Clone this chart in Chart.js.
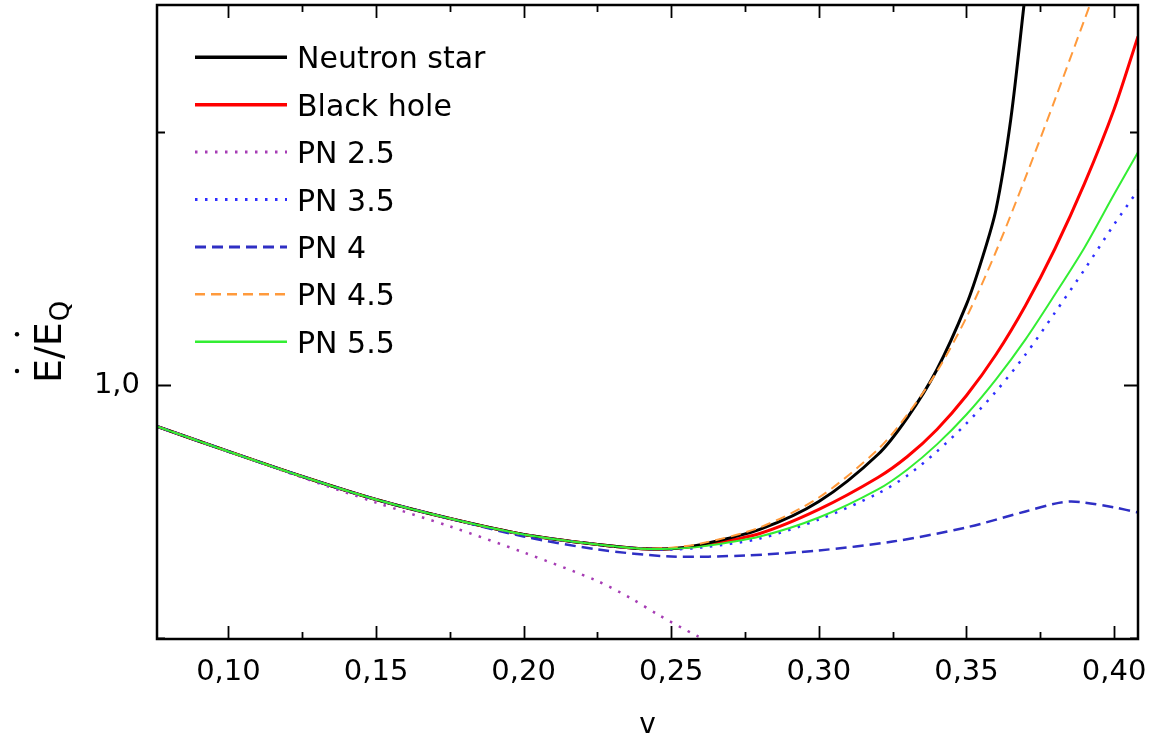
<!DOCTYPE html>
<html>
<head>
<meta charset="utf-8">
<script src="https://cdn.jsdelivr.net/npm/chart.js@4.4.1/dist/chart.umd.min.js"></script>
<style>
  html, body { margin: 0; padding: 0; background: #fff; }
  canvas { display: block; }
</style>
</head>
<body>
<canvas id="chart" width="1152" height="741"></canvas>
<script>
// values (v, E/EQ)
const seriesLabels = ['Neutron star', 'Black hole', 'PN 2.5', 'PN 3.5', 'PN 4', 'PN 4.5', 'PN 5.5'];

const vNeutron = [0.0758, 0.10, 0.125, 0.15, 0.175, 0.20, 0.225, 0.24, 0.25, 0.26, 0.28, 0.30, 0.32, 0.33, 0.34, 0.35, 0.355, 0.36, 0.365, 0.3697];
const eNeutron = [0.9837, 0.9738, 0.9639, 0.9548, 0.9473, 0.9410, 0.9370, 0.9354, 0.9354, 0.9370, 0.9430, 0.9540, 0.9726, 0.9872, 1.0062, 1.0319, 1.0489, 1.0694, 1.1050, 1.1525];

const vBlackHole = [0.0758, 0.10, 0.125, 0.15, 0.175, 0.20, 0.225, 0.24, 0.25, 0.26, 0.28, 0.30, 0.32, 0.33, 0.34, 0.35, 0.36, 0.37, 0.38, 0.39, 0.40, 0.4081];
const eBlackHole = [0.9837, 0.9738, 0.9639, 0.9548, 0.9473, 0.9410, 0.9370, 0.9354, 0.9354, 0.9366, 0.9414, 0.9509, 0.9635, 0.9718, 0.9825, 0.9959, 1.0121, 1.0315, 1.0540, 1.0797, 1.1090, 1.1378];

const vPN25 = [0.0758, 0.10, 0.125, 0.15, 0.175, 0.20, 0.225, 0.2366, 0.2457, 0.2586, 0.2630];
const ePN25 = [0.9837, 0.9738, 0.9635, 0.9536, 0.9442, 0.9339, 0.9226, 0.9156, 0.9092, 0.9010, 0.8990];

const vPN35 = [0.0758, 0.10, 0.125, 0.15, 0.175, 0.20, 0.225, 0.24, 0.25, 0.26, 0.28, 0.30, 0.32, 0.33, 0.34, 0.35, 0.36, 0.37, 0.38, 0.39, 0.40, 0.4081];
const ePN35 = [0.9837, 0.9738, 0.9639, 0.9548, 0.9473, 0.9410, 0.9370, 0.9354, 0.9351, 0.9358, 0.9394, 0.9469, 0.9572, 0.9643, 0.9738, 0.9849, 0.9975, 1.0121, 1.0287, 1.0457, 1.0635, 1.0770];

const vPN4 = [0.0758, 0.10, 0.125, 0.15, 0.175, 0.20, 0.225, 0.25, 0.275, 0.30, 0.325, 0.35, 0.37, 0.38, 0.385, 0.39, 0.40, 0.4081];
const ePN4 = [0.9837, 0.9738, 0.9639, 0.9548, 0.9473, 0.9402, 0.9351, 0.9323, 0.9327, 0.9347, 0.9382, 0.9438, 0.9501, 0.9532, 0.9540, 0.9536, 0.9517, 0.9497];

const vPN45 = [0.0758, 0.10, 0.125, 0.15, 0.175, 0.20, 0.225, 0.24, 0.25, 0.26, 0.28, 0.30, 0.32, 0.33, 0.34, 0.35, 0.36, 0.37, 0.38, 0.39, 0.3925];
const ePN45 = [0.9837, 0.9738, 0.9639, 0.9548, 0.9473, 0.9410, 0.9370, 0.9354, 0.9358, 0.9374, 0.9438, 0.9556, 0.9746, 0.9884, 1.0054, 1.0268, 1.0528, 1.0821, 1.1129, 1.1445, 1.1525];

const vPN55 = [0.0758, 0.10, 0.125, 0.15, 0.175, 0.20, 0.225, 0.24, 0.25, 0.26, 0.28, 0.30, 0.32, 0.33, 0.34, 0.35, 0.36, 0.37, 0.38, 0.39, 0.40, 0.4081];
const ePN55 = [0.9837, 0.9738, 0.9639, 0.9548, 0.9473, 0.9410, 0.9370, 0.9354, 0.9354, 0.9362, 0.9402, 0.9477, 0.9588, 0.9667, 0.9766, 0.9884, 1.0023, 1.0181, 1.0359, 1.0544, 1.0754, 1.0920];

// axis limits
const xMin = 0.0758, xMax = 0.4081;
const yMin = 0.8997, yMax = 1.1502;

const pts = (vs, es) => vs.map((v, i) => ({ x: v, y: es[i] }));

function line(label, vs, es, color, width, dash, order) {
  return {
    label: label,
    data: pts(vs, es),
    borderColor: color,
    backgroundColor: color,
    borderWidth: width,
    borderDash: dash,
    pointRadius: 0,
    tension: 0.3,
    fill: false,
    order: order
  };
}

const FONT = 'DejaVu Sans';

// draws the box frame with inward ticks on all four sides
const framePlugin = {
  id: 'frame',
  afterDraw(chart) {
    const { ctx, chartArea: a, scales } = chart;
    const xs = scales.x, ys = scales.y;
    ctx.save();
    ctx.strokeStyle = '#000';
    ctx.lineWidth = 1.8;
    xs.ticks.forEach(t => {
      const px = Math.round(xs.getPixelForValue(t.value)) + 0.5;
      const major = Math.round(t.value * 1000) % 50 === 0;
      const len = major ? 13 : 7;
      ctx.beginPath();
      ctx.moveTo(px, a.bottom); ctx.lineTo(px, a.bottom - len);
      ctx.moveTo(px, a.top); ctx.lineTo(px, a.top + len);
      ctx.stroke();
    });
    ys.ticks.forEach(t => {
      const py = Math.round(ys.getPixelForValue(t.value)) + 0.5;
      const major = Math.abs(t.value - 1) < 1e-6;
      const len = major ? 14 : 8;
      ctx.beginPath();
      ctx.moveTo(a.left, py); ctx.lineTo(a.left + len, py);
      ctx.moveTo(a.right, py); ctx.lineTo(a.right - len, py);
      ctx.stroke();
    });
    ctx.lineWidth = 2.5;
    ctx.strokeRect(a.left, a.top, a.right - a.left, a.bottom - a.top);

    // x axis title
    ctx.fillStyle = '#000';
    ctx.font = '28px "' + FONT + '"';
    ctx.textAlign = 'center';
    ctx.textBaseline = 'alphabetic';
    ctx.fillText('v', (a.left + a.right) / 2, 733);

    // y axis title: E/E with subscript Q and dots above both E's
    ctx.save();
    ctx.translate(61, 383);
    ctx.rotate(-Math.PI / 2);
    ctx.textAlign = 'left';
    ctx.font = '38px "' + FONT + '"';
    const wE = ctx.measureText('E').width;
    const wEE = ctx.measureText('E/E').width;
    ctx.fillText('E/E', 0, 0);
    ctx.font = '26px "' + FONT + '"';
    ctx.fillText('Q', wEE + 1, 8);
    [wE / 2, wEE - wE / 2].forEach(cx => {
      ctx.beginPath();
      ctx.arc(cx, -44, 2.2, 0, Math.PI * 2);
      ctx.fill();
    });
    ctx.restore();
    ctx.restore();
  }
};

// legend in the upper left corner of the plot
const legendPlugin = {
  id: 'boxLegend',
  afterDraw(chart) {
    const ctx = chart.ctx;
    const x0 = 195, x1 = 287, xt = 297, y0 = 57.3, dy = 47.4;
    ctx.save();
    ctx.font = '30px "' + FONT + '"';
    ctx.textAlign = 'left';
    ctx.textBaseline = 'alphabetic';
    chart.data.datasets.forEach((ds, i) => {
      const y = y0 + i * dy;
      ctx.strokeStyle = ds.borderColor;
      ctx.lineWidth = ds.borderWidth + 0.5;
      ctx.setLineDash(ds.borderDash || []);
      ctx.beginPath();
      ctx.moveTo(x0, y); ctx.lineTo(x1, y);
      ctx.stroke();
      ctx.setLineDash([]);
      ctx.fillStyle = '#000';
      ctx.fillText(ds.label, xt, y + 11);
    });
    ctx.restore();
  }
};

const noPad = s => { s.paddingLeft = 0; s.paddingRight = 0; s.paddingTop = 0; s.paddingBottom = 0; };

const ctx = document.getElementById('chart').getContext('2d');
new Chart(ctx, {
  type: 'line',
  data: {
    datasets: [
      line(seriesLabels[0], vNeutron, eNeutron, '#000000', 3, [], 5),
      line(seriesLabels[1], vBlackHole, eBlackHole, '#ff0000', 3, [], 6),
      line(seriesLabels[2], vPN25, ePN25, '#a63cb4', 2.5, [2.5, 7.5], 4),
      line(seriesLabels[3], vPN35, ePN35, '#2e2eff', 2.5, [2.5, 7.5], 3),
      line(seriesLabels[4], vPN4, ePN4, '#2f2fc4', 2.5, [11, 6], 2),
      line(seriesLabels[5], vPN45, ePN45, '#ff9a3c', 2, [10, 6], 1),
      line(seriesLabels[6], vPN55, ePN55, '#33ee33', 2, [], 0)
    ]
  },
  options: {
    responsive: false,
    animation: false,
    layout: { autoPadding: false, padding: { left: 0, right: 14, top: 5, bottom: 0 } },
    plugins: { legend: { display: false }, tooltip: { enabled: false } },
    scales: {
      x: {
        type: 'linear',
        min: xMin,
        max: xMax,
        border: { display: false },
        grid: { display: false, drawTicks: false },
        afterFit: s => { s.height = 102; noPad(s); },
        ticks: {
          stepSize: 0.025,
          includeBounds: false,
          autoSkip: false,
          maxRotation: 0,
          maxTicksLimit: 30,
          padding: 16,
          color: '#000',
          font: { family: FONT, size: 29 },
          callback: v => (Math.round(v * 1000) % 50 === 0 ? v.toFixed(2).replace('.', ',') : '')
        }
      },
      y: {
        type: 'linear',
        min: yMin,
        max: yMax,
        border: { display: false },
        grid: { display: false, drawTicks: false },
        afterFit: s => { s.width = 157; noPad(s); },
        ticks: {
          stepSize: 0.1,
          includeBounds: false,
          autoSkip: false,
          padding: 17,
          color: '#000',
          font: { family: FONT, size: 29 },
          callback: v => (Math.abs(v - 1) < 1e-6 ? '1,0' : '')
        }
      }
    }
  },
  plugins: [framePlugin, legendPlugin]
});
</script>
</body>
</html>
